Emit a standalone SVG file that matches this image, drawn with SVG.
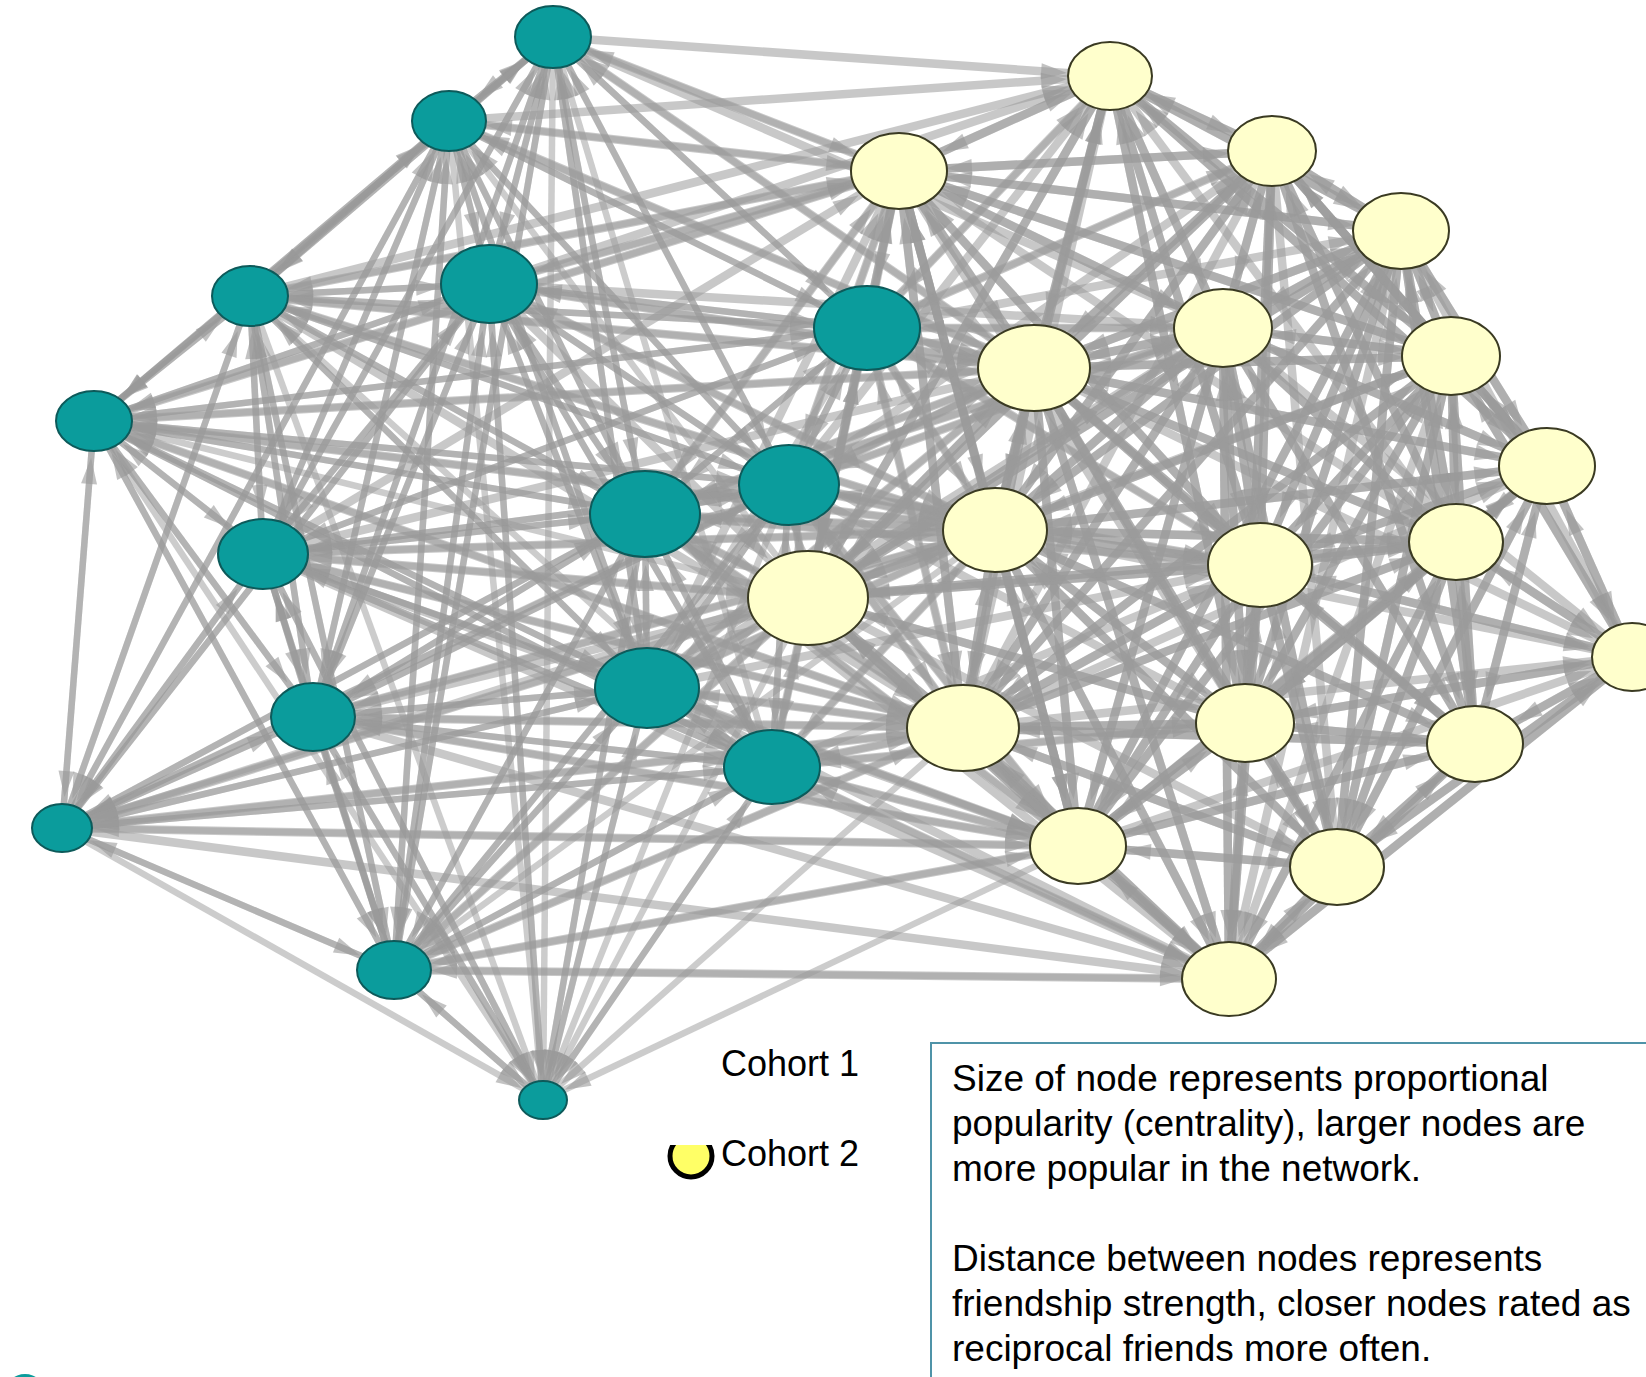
<svg xmlns="http://www.w3.org/2000/svg" width="1646" height="1377" viewBox="0 0 1646 1377">
<style>
.edges path{fill:none;stroke:#9a9a9a;stroke-opacity:.5;stroke-width:6.5}
.edges .yy path{stroke-width:8.5;stroke-opacity:.55}
marker path{fill:#999;fill-opacity:.6;stroke:none}
.a22 path{marker-end:url(#a22)}.a28 path{marker-end:url(#a28)}.a34 path{marker-end:url(#a34)}.a40 path{marker-end:url(#a40)}.a44 path{marker-end:url(#a44)}.a48 path{marker-end:url(#a48)}.a53 path{marker-end:url(#a53)}
.t ellipse{fill:#0b9c9c;stroke:#0d5a5a;stroke-width:2}
.y ellipse{fill:#ffffcc;stroke:#3a3a22;stroke-width:2}
text{font-family:"Liberation Sans",Arial,sans-serif;fill:#000}
</style>
<defs>
<marker id="a22" viewBox="0 0 26 16" refX="50" refY="8" markerWidth="26" markerHeight="16" orient="auto" markerUnits="userSpaceOnUse" overflow="visible"><path d="M0 0L26 8L0 16z"/></marker>
<marker id="a28" viewBox="0 0 26 16" refX="57" refY="8" markerWidth="26" markerHeight="16" orient="auto" markerUnits="userSpaceOnUse" overflow="visible"><path d="M0 0L26 8L0 16z"/></marker>
<marker id="a34" viewBox="0 0 26 16" refX="63" refY="8" markerWidth="26" markerHeight="16" orient="auto" markerUnits="userSpaceOnUse" overflow="visible"><path d="M0 0L26 8L0 16z"/></marker>
<marker id="a40" viewBox="0 0 26 16" refX="69" refY="8" markerWidth="26" markerHeight="16" orient="auto" markerUnits="userSpaceOnUse" overflow="visible"><path d="M0 0L26 8L0 16z"/></marker>
<marker id="a44" viewBox="0 0 26 16" refX="73" refY="8" markerWidth="26" markerHeight="16" orient="auto" markerUnits="userSpaceOnUse" overflow="visible"><path d="M0 0L26 8L0 16z"/></marker>
<marker id="a48" viewBox="0 0 26 16" refX="77" refY="8" markerWidth="26" markerHeight="16" orient="auto" markerUnits="userSpaceOnUse" overflow="visible"><path d="M0 0L26 8L0 16z"/></marker>
<marker id="a53" viewBox="0 0 26 16" refX="82" refY="8" markerWidth="26" markerHeight="16" orient="auto" markerUnits="userSpaceOnUse" overflow="visible"><path d="M0 0L26 8L0 16z"/></marker>
<clipPath id="legclip"><rect x="660" y="1145" width="70" height="50"/></clipPath>
</defs>
<rect width="1646" height="1377" fill="#fff"/>
<g id="connectors" class="edges">
<g class="a34">
<path d="M449 121L553 37"/><path d="M250 296L553 37"/><path d="M489 284L553 37"/><path d="M94 421L553 37"/><path d="M263 554L553 37"/><path d="M645 514L553 37"/><path d="M313 717L553 37"/><path d="M647 688L553 37"/><path d="M394 970L553 37"/><path d="M789 485L553 37"/><path d="M867 328L553 37"/><path d="M899 171L553 37"/><path d="M1034 368L553 37"/><path d="M772 767L553 37"/>
<path d="M553 37L449 121"/><path d="M250 296L449 121"/><path d="M489 284L449 121"/><path d="M94 421L449 121"/><path d="M263 554L449 121"/><path d="M645 514L449 121"/><path d="M313 717L449 121"/><path d="M394 970L449 121"/><path d="M789 485L449 121"/><path d="M867 328L449 121"/><path d="M647 688L449 121"/><path d="M899 171L449 121"/><path d="M62 828L449 121"/><path d="M1034 368L449 121"/><path d="M808 598L449 121"/>
<path d="M553 37L250 296"/><path d="M449 121L250 296"/><path d="M489 284L250 296"/><path d="M94 421L250 296"/><path d="M263 554L250 296"/><path d="M645 514L250 296"/><path d="M313 717L250 296"/><path d="M394 970L250 296"/><path d="M62 828L250 296"/><path d="M867 328L250 296"/><path d="M789 485L250 296"/><path d="M647 688L250 296"/><path d="M772 767L250 296"/><path d="M1034 368L250 296"/><path d="M899 171L250 296"/><path d="M995 530L250 296"/>
<path d="M553 37L94 421"/><path d="M449 121L94 421"/><path d="M250 296L94 421"/><path d="M489 284L94 421"/><path d="M263 554L94 421"/><path d="M645 514L94 421"/><path d="M313 717L94 421"/><path d="M62 828L94 421"/><path d="M394 970L94 421"/><path d="M867 328L94 421"/><path d="M789 485L94 421"/><path d="M647 688L94 421"/><path d="M772 767L94 421"/><path d="M899 171L94 421"/><path d="M1034 368L94 421"/><path d="M995 530L94 421"/><path d="M808 598L94 421"/><path d="M963 728L94 421"/>
<path d="M250 296L394 970"/><path d="M94 421L394 970"/><path d="M263 554L394 970"/><path d="M313 717L394 970"/><path d="M62 828L394 970"/><path d="M645 514L394 970"/><path d="M647 688L394 970"/><path d="M772 767L394 970"/><path d="M489 284L394 970"/><path d="M449 121L394 970"/><path d="M553 37L394 970"/><path d="M789 485L394 970"/><path d="M543 1100L394 970"/><path d="M1229 979L394 970"/><path d="M1078 846L394 970"/><path d="M963 728L394 970"/><path d="M808 598L394 970"/><path d="M995 530L394 970"/>
</g>
<g class="a22">
<path d="M394 970L543 1100"/><path d="M313 717L543 1100"/><path d="M263 554L543 1100"/><path d="M645 514L543 1100"/><path d="M647 688L543 1100"/><path d="M772 767L543 1100"/><path d="M789 485L543 1100"/><path d="M489 284L543 1100"/><path d="M553 37L543 1100"/><path d="M449 121L543 1100"/><path d="M250 296L543 1100"/><path d="M62 828L543 1100"/><path d="M94 421L543 1100"/><path d="M808 598L543 1100"/><path d="M963 728L543 1100"/><path d="M1078 846L543 1100"/>
</g>
<g class="a28">
<path d="M94 421L62 828"/><path d="M250 296L62 828"/><path d="M263 554L62 828"/><path d="M313 717L62 828"/><path d="M394 970L62 828"/><path d="M645 514L62 828"/><path d="M647 688L62 828"/><path d="M772 767L62 828"/><path d="M489 284L62 828"/><path d="M789 485L62 828"/><path d="M808 598L62 828"/><path d="M963 728L62 828"/><path d="M1078 846L62 828"/><path d="M449 121L62 828"/><path d="M995 530L62 828"/><path d="M1034 368L62 828"/>
</g>
<g class="a44">
<path d="M553 37L489 284"/><path d="M449 121L489 284"/><path d="M250 296L489 284"/><path d="M94 421L489 284"/><path d="M263 554L489 284"/><path d="M645 514L489 284"/><path d="M789 485L489 284"/><path d="M313 717L489 284"/><path d="M647 688L489 284"/><path d="M394 970L489 284"/><path d="M867 328L489 284"/><path d="M772 767L489 284"/><path d="M899 171L489 284"/><path d="M1034 368L489 284"/><path d="M995 530L489 284"/><path d="M543 1100L489 284"/><path d="M62 828L489 284"/>
<path d="M553 37L789 485"/><path d="M449 121L789 485"/><path d="M489 284L789 485"/><path d="M250 296L789 485"/><path d="M263 554L789 485"/><path d="M645 514L789 485"/><path d="M647 688L789 485"/><path d="M772 767L789 485"/><path d="M394 970L789 485"/><path d="M867 328L789 485"/><path d="M899 171L789 485"/><path d="M1034 368L789 485"/><path d="M995 530L789 485"/><path d="M808 598L789 485"/><path d="M963 728L789 485"/><path d="M1223 328L789 485"/><path d="M1260 565L789 485"/><path d="M1078 846L789 485"/><path d="M94 421L789 485"/><path d="M313 717L789 485"/>
<path d="M553 37L647 688"/><path d="M449 121L647 688"/><path d="M489 284L647 688"/><path d="M250 296L647 688"/><path d="M94 421L647 688"/><path d="M263 554L647 688"/><path d="M645 514L647 688"/><path d="M313 717L647 688"/><path d="M62 828L647 688"/><path d="M394 970L647 688"/><path d="M543 1100L647 688"/><path d="M789 485L647 688"/><path d="M772 767L647 688"/><path d="M808 598L647 688"/><path d="M963 728L647 688"/><path d="M995 530L647 688"/><path d="M1078 846L647 688"/><path d="M1034 368L647 688"/>
<g class="yy">
<path d="M1110 76L899 171"/><path d="M1272 151L899 171"/><path d="M1223 328L899 171"/><path d="M1034 368L899 171"/><path d="M995 530L899 171"/><path d="M1260 565L899 171"/><path d="M808 598L899 171"/><path d="M963 728L899 171"/><path d="M1401 231L899 171"/><path d="M1451 356L899 171"/><path d="M553 37L899 171"/><path d="M449 121L899 171"/><path d="M489 284L899 171"/><path d="M867 328L899 171"/><path d="M645 514L899 171"/><path d="M789 485L899 171"/><path d="M647 688L899 171"/><path d="M1245 723L899 171"/><path d="M1078 846L899 171"/><path d="M94 421L899 171"/><path d="M250 296L899 171"/><path d="M263 554L899 171"/>
<path d="M1110 76L1401 231"/><path d="M1272 151L1401 231"/><path d="M899 171L1401 231"/><path d="M1223 328L1401 231"/><path d="M1034 368L1401 231"/><path d="M1451 356L1401 231"/><path d="M1547 466L1401 231"/><path d="M995 530L1401 231"/><path d="M1260 565L1401 231"/><path d="M1456 542L1401 231"/><path d="M808 598L1401 231"/><path d="M963 728L1401 231"/><path d="M1245 723L1401 231"/><path d="M1475 744L1401 231"/><path d="M1078 846L1401 231"/><path d="M1337 867L1401 231"/><path d="M867 328L1401 231"/>
<path d="M1110 76L1223 328"/><path d="M1272 151L1223 328"/><path d="M899 171L1223 328"/><path d="M1401 231L1223 328"/><path d="M1034 368L1223 328"/><path d="M1451 356L1223 328"/><path d="M1547 466L1223 328"/><path d="M995 530L1223 328"/><path d="M1260 565L1223 328"/><path d="M1456 542L1223 328"/><path d="M808 598L1223 328"/><path d="M963 728L1223 328"/><path d="M1245 723L1223 328"/><path d="M1475 744L1223 328"/><path d="M1078 846L1223 328"/><path d="M1337 867L1223 328"/><path d="M1229 979L1223 328"/><path d="M867 328L1223 328"/><path d="M789 485L1223 328"/><path d="M645 514L1223 328"/><path d="M489 284L1223 328"/><path d="M553 37L1223 328"/><path d="M647 688L1223 328"/>
<path d="M1110 76L1451 356"/><path d="M1272 151L1451 356"/><path d="M1401 231L1451 356"/><path d="M1223 328L1451 356"/><path d="M1034 368L1451 356"/><path d="M1547 466L1451 356"/><path d="M995 530L1451 356"/><path d="M1260 565L1451 356"/><path d="M1456 542L1451 356"/><path d="M1632 657L1451 356"/><path d="M963 728L1451 356"/><path d="M1245 723L1451 356"/><path d="M1475 744L1451 356"/><path d="M1078 846L1451 356"/><path d="M1337 867L1451 356"/><path d="M899 171L1451 356"/><path d="M808 598L1451 356"/>
<path d="M1272 151L1547 466"/><path d="M1401 231L1547 466"/><path d="M1223 328L1547 466"/><path d="M1034 368L1547 466"/><path d="M1451 356L1547 466"/><path d="M1260 565L1547 466"/><path d="M1456 542L1547 466"/><path d="M1632 657L1547 466"/><path d="M1245 723L1547 466"/><path d="M1475 744L1547 466"/><path d="M1337 867L1547 466"/><path d="M995 530L1547 466"/><path d="M963 728L1547 466"/><path d="M1078 846L1547 466"/><path d="M1110 76L1547 466"/>
<path d="M1110 76L1245 723"/><path d="M1272 151L1245 723"/><path d="M1401 231L1245 723"/><path d="M1223 328L1245 723"/><path d="M1034 368L1245 723"/><path d="M1451 356L1245 723"/><path d="M1547 466L1245 723"/><path d="M995 530L1245 723"/><path d="M1260 565L1245 723"/><path d="M1456 542L1245 723"/><path d="M808 598L1245 723"/><path d="M1632 657L1245 723"/><path d="M963 728L1245 723"/><path d="M1475 744L1245 723"/><path d="M1078 846L1245 723"/><path d="M1337 867L1245 723"/><path d="M1229 979L1245 723"/><path d="M789 485L1245 723"/><path d="M772 767L1245 723"/>
<path d="M1401 231L1475 744"/><path d="M1223 328L1475 744"/><path d="M1451 356L1475 744"/><path d="M1547 466L1475 744"/><path d="M1260 565L1475 744"/><path d="M1456 542L1475 744"/><path d="M1632 657L1475 744"/><path d="M1245 723L1475 744"/><path d="M1078 846L1475 744"/><path d="M1337 867L1475 744"/><path d="M1229 979L1475 744"/><path d="M995 530L1475 744"/><path d="M1034 368L1475 744"/><path d="M963 728L1475 744"/><path d="M1272 151L1475 744"/>
<path d="M1223 328L1078 846"/><path d="M1034 368L1078 846"/><path d="M995 530L1078 846"/><path d="M1260 565L1078 846"/><path d="M1456 542L1078 846"/><path d="M808 598L1078 846"/><path d="M963 728L1078 846"/><path d="M1245 723L1078 846"/><path d="M1475 744L1078 846"/><path d="M1337 867L1078 846"/><path d="M1229 979L1078 846"/><path d="M1401 231L1078 846"/><path d="M1451 356L1078 846"/><path d="M899 171L1078 846"/><path d="M789 485L1078 846"/><path d="M647 688L1078 846"/><path d="M772 767L1078 846"/><path d="M645 514L1078 846"/><path d="M394 970L1078 846"/><path d="M62 828L1078 846"/><path d="M313 717L1078 846"/><path d="M263 554L1078 846"/>
</g>
</g>
<g class="a48">
<path d="M553 37L867 328"/><path d="M449 121L867 328"/><path d="M489 284L867 328"/><path d="M250 296L867 328"/><path d="M645 514L867 328"/><path d="M789 485L867 328"/><path d="M647 688L867 328"/><path d="M899 171L867 328"/><path d="M1034 368L867 328"/><path d="M1110 76L867 328"/><path d="M1223 328L867 328"/><path d="M995 530L867 328"/><path d="M808 598L867 328"/><path d="M963 728L867 328"/><path d="M772 767L867 328"/><path d="M1272 151L867 328"/><path d="M1260 565L867 328"/><path d="M263 554L867 328"/><path d="M94 421L867 328"/>
<path d="M553 37L645 514"/><path d="M449 121L645 514"/><path d="M250 296L645 514"/><path d="M489 284L645 514"/><path d="M94 421L645 514"/><path d="M263 554L645 514"/><path d="M313 717L645 514"/><path d="M647 688L645 514"/><path d="M772 767L645 514"/><path d="M62 828L645 514"/><path d="M394 970L645 514"/><path d="M543 1100L645 514"/><path d="M789 485L645 514"/><path d="M867 328L645 514"/><path d="M899 171L645 514"/><path d="M1034 368L645 514"/><path d="M995 530L645 514"/><path d="M808 598L645 514"/><path d="M963 728L645 514"/><path d="M1223 328L645 514"/><path d="M1078 846L645 514"/><path d="M1260 565L645 514"/>
<g class="yy">
<path d="M1110 76L1034 368"/><path d="M1272 151L1034 368"/><path d="M899 171L1034 368"/><path d="M1401 231L1034 368"/><path d="M1223 328L1034 368"/><path d="M1451 356L1034 368"/><path d="M1547 466L1034 368"/><path d="M995 530L1034 368"/><path d="M1260 565L1034 368"/><path d="M1456 542L1034 368"/><path d="M808 598L1034 368"/><path d="M963 728L1034 368"/><path d="M1245 723L1034 368"/><path d="M1475 744L1034 368"/><path d="M1078 846L1034 368"/><path d="M1337 867L1034 368"/><path d="M1229 979L1034 368"/><path d="M867 328L1034 368"/><path d="M645 514L1034 368"/><path d="M789 485L1034 368"/><path d="M489 284L1034 368"/><path d="M553 37L1034 368"/><path d="M647 688L1034 368"/><path d="M250 296L1034 368"/><path d="M449 121L1034 368"/><path d="M94 421L1034 368"/><path d="M263 554L1034 368"/>
<path d="M1110 76L995 530"/><path d="M1272 151L995 530"/><path d="M899 171L995 530"/><path d="M1401 231L995 530"/><path d="M1223 328L995 530"/><path d="M1034 368L995 530"/><path d="M1451 356L995 530"/><path d="M1547 466L995 530"/><path d="M1260 565L995 530"/><path d="M1456 542L995 530"/><path d="M808 598L995 530"/><path d="M963 728L995 530"/><path d="M1245 723L995 530"/><path d="M1475 744L995 530"/><path d="M1078 846L995 530"/><path d="M1337 867L995 530"/><path d="M1229 979L995 530"/><path d="M867 328L995 530"/><path d="M645 514L995 530"/><path d="M789 485L995 530"/><path d="M647 688L995 530"/><path d="M772 767L995 530"/><path d="M489 284L995 530"/><path d="M250 296L995 530"/><path d="M263 554L995 530"/><path d="M313 717L995 530"/><path d="M94 421L995 530"/>
<path d="M1110 76L1260 565"/><path d="M1272 151L1260 565"/><path d="M899 171L1260 565"/><path d="M1401 231L1260 565"/><path d="M1223 328L1260 565"/><path d="M1034 368L1260 565"/><path d="M1451 356L1260 565"/><path d="M1547 466L1260 565"/><path d="M995 530L1260 565"/><path d="M1456 542L1260 565"/><path d="M808 598L1260 565"/><path d="M1632 657L1260 565"/><path d="M963 728L1260 565"/><path d="M1245 723L1260 565"/><path d="M1475 744L1260 565"/><path d="M1078 846L1260 565"/><path d="M1337 867L1260 565"/><path d="M1229 979L1260 565"/><path d="M789 485L1260 565"/><path d="M867 328L1260 565"/><path d="M645 514L1260 565"/><path d="M647 688L1260 565"/><path d="M772 767L1260 565"/>
<path d="M899 171L963 728"/><path d="M1223 328L963 728"/><path d="M1034 368L963 728"/><path d="M995 530L963 728"/><path d="M1260 565L963 728"/><path d="M808 598L963 728"/><path d="M1245 723L963 728"/><path d="M1078 846L963 728"/><path d="M1337 867L963 728"/><path d="M1229 979L963 728"/><path d="M1456 542L963 728"/><path d="M1475 744L963 728"/><path d="M1401 231L963 728"/><path d="M1451 356L963 728"/><path d="M867 328L963 728"/><path d="M645 514L963 728"/><path d="M789 485L963 728"/><path d="M647 688L963 728"/><path d="M772 767L963 728"/><path d="M263 554L963 728"/><path d="M62 828L963 728"/><path d="M394 970L963 728"/><path d="M313 717L963 728"/><path d="M94 421L963 728"/><path d="M250 296L963 728"/>
</g>
</g>
<g class="a40">
<path d="M553 37L263 554"/><path d="M449 121L263 554"/><path d="M250 296L263 554"/><path d="M489 284L263 554"/><path d="M94 421L263 554"/><path d="M645 514L263 554"/><path d="M313 717L263 554"/><path d="M62 828L263 554"/><path d="M394 970L263 554"/><path d="M647 688L263 554"/><path d="M789 485L263 554"/><path d="M867 328L263 554"/><path d="M772 767L263 554"/><path d="M543 1100L263 554"/><path d="M808 598L263 554"/><path d="M995 530L263 554"/><path d="M963 728L263 554"/>
<path d="M250 296L313 717"/><path d="M489 284L313 717"/><path d="M94 421L313 717"/><path d="M263 554L313 717"/><path d="M645 514L313 717"/><path d="M647 688L313 717"/><path d="M62 828L313 717"/><path d="M394 970L313 717"/><path d="M543 1100L313 717"/><path d="M449 121L313 717"/><path d="M553 37L313 717"/><path d="M789 485L313 717"/><path d="M772 767L313 717"/><path d="M963 728L313 717"/><path d="M1078 846L313 717"/><path d="M995 530L313 717"/>
<path d="M489 284L772 767"/><path d="M263 554L772 767"/><path d="M645 514L772 767"/><path d="M313 717L772 767"/><path d="M647 688L772 767"/><path d="M62 828L772 767"/><path d="M394 970L772 767"/><path d="M543 1100L772 767"/><path d="M789 485L772 767"/><path d="M808 598L772 767"/><path d="M963 728L772 767"/><path d="M1078 846L772 767"/><path d="M995 530L772 767"/><path d="M1229 979L772 767"/><path d="M1245 723L772 767"/><path d="M94 421L772 767"/>
<g class="yy">
<path d="M899 171L1110 76"/><path d="M1272 151L1110 76"/><path d="M1401 231L1110 76"/><path d="M1223 328L1110 76"/><path d="M1034 368L1110 76"/><path d="M1451 356L1110 76"/><path d="M995 530L1110 76"/><path d="M1260 565L1110 76"/><path d="M808 598L1110 76"/><path d="M963 728L1110 76"/><path d="M1245 723L1110 76"/><path d="M867 328L1110 76"/><path d="M553 37L1110 76"/><path d="M489 284L1110 76"/><path d="M789 485L1110 76"/><path d="M1456 542L1110 76"/><path d="M1547 466L1110 76"/><path d="M449 121L1110 76"/><path d="M250 296L1110 76"/>
<path d="M1110 76L1272 151"/><path d="M899 171L1272 151"/><path d="M1401 231L1272 151"/><path d="M1223 328L1272 151"/><path d="M1034 368L1272 151"/><path d="M1451 356L1272 151"/><path d="M1547 466L1272 151"/><path d="M995 530L1272 151"/><path d="M1260 565L1272 151"/><path d="M1456 542L1272 151"/><path d="M808 598L1272 151"/><path d="M963 728L1272 151"/><path d="M1245 723L1272 151"/><path d="M1475 744L1272 151"/><path d="M867 328L1272 151"/><path d="M789 485L1272 151"/>
<path d="M1272 151L1456 542"/><path d="M1401 231L1456 542"/><path d="M1223 328L1456 542"/><path d="M1034 368L1456 542"/><path d="M1451 356L1456 542"/><path d="M1547 466L1456 542"/><path d="M995 530L1456 542"/><path d="M1260 565L1456 542"/><path d="M1632 657L1456 542"/><path d="M963 728L1456 542"/><path d="M1245 723L1456 542"/><path d="M1475 744L1456 542"/><path d="M1078 846L1456 542"/><path d="M1337 867L1456 542"/><path d="M1229 979L1456 542"/><path d="M808 598L1456 542"/><path d="M899 171L1456 542"/>
<path d="M1401 231L1632 657"/><path d="M1223 328L1632 657"/><path d="M1451 356L1632 657"/><path d="M1547 466L1632 657"/><path d="M1260 565L1632 657"/><path d="M1456 542L1632 657"/><path d="M1245 723L1632 657"/><path d="M1475 744L1632 657"/><path d="M1337 867L1632 657"/><path d="M1229 979L1632 657"/><path d="M1078 846L1632 657"/><path d="M963 728L1632 657"/><path d="M995 530L1632 657"/><path d="M1034 368L1632 657"/>
<path d="M1401 231L1337 867"/><path d="M1223 328L1337 867"/><path d="M1034 368L1337 867"/><path d="M1451 356L1337 867"/><path d="M1547 466L1337 867"/><path d="M995 530L1337 867"/><path d="M1260 565L1337 867"/><path d="M1456 542L1337 867"/><path d="M1632 657L1337 867"/><path d="M963 728L1337 867"/><path d="M1245 723L1337 867"/><path d="M1475 744L1337 867"/><path d="M1078 846L1337 867"/><path d="M1229 979L1337 867"/><path d="M808 598L1337 867"/><path d="M1272 151L1337 867"/>
<path d="M995 530L1229 979"/><path d="M1260 565L1229 979"/><path d="M1456 542L1229 979"/><path d="M808 598L1229 979"/><path d="M963 728L1229 979"/><path d="M1245 723L1229 979"/><path d="M1475 744L1229 979"/><path d="M1078 846L1229 979"/><path d="M1337 867L1229 979"/><path d="M1223 328L1229 979"/><path d="M1034 368L1229 979"/><path d="M1401 231L1229 979"/><path d="M1451 356L1229 979"/><path d="M1632 657L1229 979"/><path d="M772 767L1229 979"/><path d="M647 688L1229 979"/><path d="M394 970L1229 979"/><path d="M645 514L1229 979"/><path d="M313 717L1229 979"/><path d="M62 828L1229 979"/><path d="M263 554L1229 979"/>
</g>
</g>
<g class="a53 yy">
<path d="M899 171L808 598"/><path d="M1223 328L808 598"/><path d="M1034 368L808 598"/><path d="M995 530L808 598"/><path d="M1260 565L808 598"/><path d="M963 728L808 598"/><path d="M1245 723L808 598"/><path d="M1078 846L808 598"/><path d="M1229 979L808 598"/><path d="M1110 76L808 598"/><path d="M1272 151L808 598"/><path d="M1401 231L808 598"/><path d="M1456 542L808 598"/><path d="M867 328L808 598"/><path d="M645 514L808 598"/><path d="M789 485L808 598"/><path d="M647 688L808 598"/><path d="M772 767L808 598"/><path d="M489 284L808 598"/><path d="M263 554L808 598"/><path d="M313 717L808 598"/><path d="M62 828L808 598"/><path d="M394 970L808 598"/>
</g>
</g>
<g id="nodes">
<g id="c1-n1" class="t"><ellipse cx="553" cy="37" rx="38" ry="31"/></g>
<g id="c1-n2" class="t"><ellipse cx="449" cy="121" rx="37" ry="30"/></g>
<g id="c1-n3" class="t"><ellipse cx="250" cy="296" rx="38" ry="30"/></g>
<g id="c1-n4" class="t"><ellipse cx="489" cy="284" rx="48" ry="39"/></g>
<g id="c1-n5" class="t"><ellipse cx="94" cy="421" rx="38" ry="30"/></g>
<g id="c1-n6" class="t"><ellipse cx="867" cy="328" rx="53" ry="42"/></g>
<g id="c1-n7" class="t"><ellipse cx="263" cy="554" rx="45" ry="35"/></g>
<g id="c1-n8" class="t"><ellipse cx="645" cy="514" rx="55" ry="43"/></g>
<g id="c1-n9" class="t"><ellipse cx="789" cy="485" rx="50" ry="40"/></g>
<g id="c1-n10" class="t"><ellipse cx="313" cy="717" rx="42" ry="34"/></g>
<g id="c1-n11" class="t"><ellipse cx="647" cy="688" rx="52" ry="40"/></g>
<g id="c1-n12" class="t"><ellipse cx="772" cy="767" rx="48" ry="37"/></g>
<g id="c1-n13" class="t"><ellipse cx="62" cy="828" rx="30" ry="24"/></g>
<g id="c1-n14" class="t"><ellipse cx="394" cy="970" rx="37" ry="29"/></g>
<g id="c1-n15" class="t"><ellipse cx="543" cy="1100" rx="24" ry="19"/></g>
<g id="c2-n1" class="y"><ellipse cx="1110" cy="76" rx="42" ry="34"/></g>
<g id="c2-n2" class="y"><ellipse cx="1272" cy="151" rx="44" ry="35"/></g>
<g id="c2-n3" class="y"><ellipse cx="899" cy="171" rx="48" ry="38"/></g>
<g id="c2-n4" class="y"><ellipse cx="1401" cy="231" rx="48" ry="38"/></g>
<g id="c2-n5" class="y"><ellipse cx="1223" cy="328" rx="49" ry="39"/></g>
<g id="c2-n6" class="y"><ellipse cx="1034" cy="368" rx="56" ry="43"/></g>
<g id="c2-n7" class="y"><ellipse cx="1451" cy="356" rx="49" ry="39"/></g>
<g id="c2-n8" class="y"><ellipse cx="1547" cy="466" rx="48" ry="38"/></g>
<g id="c2-n9" class="y"><ellipse cx="995" cy="530" rx="52" ry="42"/></g>
<g id="c2-n10" class="y"><ellipse cx="1260" cy="565" rx="52" ry="42"/></g>
<g id="c2-n11" class="y"><ellipse cx="1456" cy="542" rx="47" ry="38"/></g>
<g id="c2-n12" class="y"><ellipse cx="808" cy="598" rx="60" ry="47"/></g>
<g id="c2-n13" class="y"><ellipse cx="1632" cy="657" rx="40" ry="34"/></g>
<g id="c2-n14" class="y"><ellipse cx="963" cy="728" rx="56" ry="43"/></g>
<g id="c2-n15" class="y"><ellipse cx="1245" cy="723" rx="49" ry="39"/></g>
<g id="c2-n16" class="y"><ellipse cx="1475" cy="744" rx="48" ry="38"/></g>
<g id="c2-n17" class="y"><ellipse cx="1078" cy="846" rx="48" ry="38"/></g>
<g id="c2-n18" class="y"><ellipse cx="1337" cy="867" rx="47" ry="38"/></g>
<g id="c2-n19" class="y"><ellipse cx="1229" cy="979" rx="47" ry="37"/></g>
</g>
<g id="legend">
<text x="721" y="1076" font-size="36">Cohort 1</text>
<circle cx="691" cy="1156" r="21" fill="#ffff66" stroke="#000" stroke-width="5" clip-path="url(#legclip)"/>
<text x="721" y="1166" font-size="36">Cohort 2</text>
<ellipse cx="25" cy="1393" rx="20" ry="19" fill="#0b9c9c"/>
</g>
<g id="note">
<rect x="931" y="1043" width="760" height="400" fill="#fff" stroke="#4f93a8" stroke-width="2"/>
<text font-size="37"><tspan x="952" y="1091">Size of node represents proportional</tspan><tspan x="952" y="1136">popularity (centrality), larger nodes are</tspan><tspan x="952" y="1181">more popular in the network.</tspan><tspan x="952" y="1271">Distance between nodes represents</tspan><tspan x="952" y="1316">friendship strength, closer nodes rated as</tspan><tspan x="952" y="1361">reciprocal friends more often.</tspan></text>
</g>
</svg>
